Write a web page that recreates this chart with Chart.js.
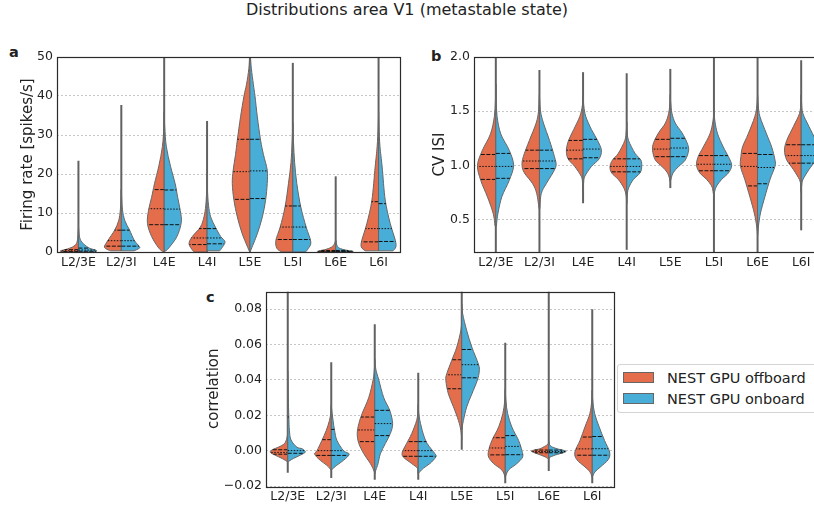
<!DOCTYPE html>
<html>
<head>
<meta charset="utf-8">
<script src="https://cdn.jsdelivr.net/npm/chart.js@4.4.0/dist/chart.umd.min.js"></script>
<style>
  html, body { margin: 0; padding: 0; background: #fff; overflow: hidden; width: 814px; height: 505px; }
  body { position: relative; font-family: 'DejaVu Sans', sans-serif; color: #222; }
  canvas { position: absolute; display: block; }
  #title { position: absolute; left: 0; top: 0; width: 814px; text-align: center; font-size: 16px; line-height: 20px; }
  .lbl { position: absolute; font-weight: bold; font-size: 14.5px; line-height: 14px; }
  #legend { position: absolute; left: 617px; top: 364px; width: 220px; height: 47px; border: 1px solid #d4d4d4; border-radius: 3px; background: #fff; }
  .item { position: absolute; left: 5px; font-size: 14.5px; line-height: 16px; }
  .patch { position: absolute; left: 0; top: 2px; width: 29px; height: 9px; border: 1px solid #666; }
  .item span { position: absolute; left: 44px; top: 0; white-space: nowrap; }
</style>
</head>
<body>
<div id="title">Distributions area V1 (metastable state)</div>
<div class="lbl" style="left:9px;top:45px">a</div>
<div class="lbl" style="left:431px;top:49px">b</div>
<div class="lbl" style="left:206px;top:290px">c</div>

<canvas id="rate" width="410" height="235" style="left:0;top:40px"></canvas>
<canvas id="cv" width="420" height="235" style="left:420px;top:40px"></canvas>
<canvas id="corr" width="430" height="225" style="left:190px;top:280px"></canvas>

<div id="legend">
  <div class="item" style="top:5px"><div class="patch" style="background:#E46E4C"></div><span>NEST GPU offboard</span></div>
  <div class="item" style="top:26px"><div class="patch" style="background:#48AED8"></div><span>NEST GPU onboard</span></div>
</div>

<script>
'use strict';

// ===== データ =====
const categories = ['L2/3E', 'L2/3I', 'L4E', 'L4I', 'L5E', 'L5I', 'L6E', 'L6I'];
const seriesNames = ['NEST GPU offboard', 'NEST GPU onboard'];
const OFF_COLOR = '#E46E4C';
const ON_COLOR  = '#48AED8';

// 軸目盛
const rateTicks = [0, 10, 20, 30, 40, 50];
const rateTickLabels = ['0', '10', '20', '30', '40', '50'];
const cvTicks = [0.5, 1.0, 1.5, 2.0];
const cvTickLabels = ['0.5', '1.0', '1.5', '2.0'];
const corrTicks = [-0.02, 0, 0.02, 0.04, 0.06, 0.08];
const corrTickLabels = ['\u22120.02', '0.00', '0.02', '0.04', '0.06', '0.08'];

// 形状: [値, 相対幅(1 = 最大幅)] を下から上へ
// --- a: firing rate ---
const rateOffShape = [
  [[0,0.92],[0.3,1.0],[0.8,0.6],[1.5,0.25],[2.5,0.08],[4,0.03],[6,0]],
  [[0.3,0.6],[0.9,0.88],[1.5,0.93],[3,0.74],[5.6,0.37],[8,0.15],[11,0.05],[16,0]],
  [[0,0.05],[1,0.3],[3.9,0.69],[7.3,0.93],[10.7,0.87],[14,0.7],[17.5,0.54],[22,0.3],[27,0.1],[32,0.02],[36,0]],
  [[0,0.7],[0.4,0.8],[2.1,1.0],[3.9,0.83],[6.4,0.37],[9,0.17],[12,0.07],[16,0.02],[20,0]],
  [[0,0],[0.4,0.05],[4.7,0.43],[9,0.7],[13.3,0.89],[17.6,0.98],[21,0.93],[25,0.8],[28.7,0.7],[34.7,0.52],[40,0.33],[43,0.19],[47,0.06],[50,0.02]],
  [[0,0.6],[0.9,0.88],[3,0.94],[6.4,0.7],[11.6,0.43],[17.6,0.24],[23,0.1],[28,0.04],[33,0]],
  [[0,0.96],[0.2,1.0],[0.6,0.6],[1.2,0.25],[2,0.08],[3,0]],
  [[0.3,0.75],[1.3,0.96],[3,0.93],[7.3,0.65],[13.3,0.37],[21.8,0.19],[27,0.08],[32,0.02],[36,0]],
];
const rateOnShape = [
  [[0,0.95],[0.4,1.0],[1.0,0.6],[2.0,0.3],[3,0.12],[4.5,0.04],[7,0]],
  [[0.3,0.7],[0.9,0.98],[1.4,1.0],[3,0.72],[5.6,0.46],[8,0.2],[11,0.06],[16,0]],
  [[0.3,0.1],[1,0.25],[3.9,0.7],[7.6,0.95],[10.7,0.89],[14,0.75],[17.5,0.61],[22,0.35],[27,0.12],[32,0.03],[36,0]],
  [[0.3,0.7],[0.9,0.8],[2.6,1.0],[4,0.75],[6.4,0.46],[9,0.2],[12,0.08],[16,0.02],[20,0]],
  [[0,0],[0.4,0.04],[4.7,0.41],[9,0.69],[13.3,0.87],[17.6,0.96],[21,0.96],[25,0.75],[28.7,0.59],[34.7,0.41],[40,0.28],[43,0.19],[47,0.08],[50,0.03]],
  [[0,0.7],[0.9,0.86],[2.6,1.0],[6.4,0.74],[11.6,0.44],[17.6,0.22],[23,0.1],[28,0.04],[33,0]],
  [[0,0.93],[0.2,0.95],[0.5,0.55],[1.0,0.2],[1.8,0.06],[3,0]],
  [[0.3,0.8],[1.3,0.96],[3,0.93],[7.3,0.65],[13.3,0.37],[21.8,0.2],[27,0.08],[32,0.02],[36,0]],
];
// 四分位 [q1, 中央値, q3]
const rateOffQ = [[0.1,0.3,0.6],[1.5,2.9,5.6],[7.0,11.1,16.0],[1.9,3.6,6.0],[13.5,20.6,28.9],[3.2,6.4,11.8],[0.1,0.2,0.4],[2.6,6.0,12.9]];
const rateOnQ  = [[0.2,0.5,1.0],[1.5,2.9,5.6],[7.0,11.0,15.9],[2.1,3.6,6.0],[13.7,20.8,28.9],[3.2,6.4,11.8],[0.1,0.2,0.4],[2.7,6.0,12.4]];
// 最小・最大（細い尾）
const rateRange = [[0,23.4],[0.3,37.7],[0,50],[0,33.6],[0,50],[0,48.5],[0,19.4],[0.3,50]];

// --- b: CV ISI ---
const cvOffShape = [
  [[0.44,0.04],[0.56,0.15],[0.71,0.46],[0.86,0.82],[1.0,1.0],[1.14,0.73],[1.29,0.29],[1.45,0.08],[1.6,0.02],[1.75,0]],
  [[0.6,0.02],[0.74,0.15],[0.83,0.37],[0.93,0.82],[1.0,0.95],[1.08,0.88],[1.23,0.55],[1.39,0.18],[1.5,0.05],[1.65,0]],
  [[0.75,0],[0.84,0.03],[0.9,0.1],[0.99,0.46],[1.06,0.82],[1.14,0.91],[1.23,0.79],[1.33,0.51],[1.45,0.18],[1.55,0.04],[1.65,0]],
  [[0.65,0],[0.72,0.03],[0.79,0.15],[0.87,0.46],[0.93,0.82],[0.99,0.91],[1.05,0.77],[1.11,0.46],[1.23,0.1],[1.32,0.02],[1.4,0]],
  [[0.85,0],[0.93,0.15],[0.99,0.46],[1.05,0.82],[1.14,0.97],[1.21,0.91],[1.3,0.64],[1.39,0.27],[1.48,0.09],[1.58,0.02],[1.65,0]],
  [[0.7,0],[0.76,0.05],[0.81,0.13],[0.87,0.4],[0.93,0.77],[1.0,0.95],[1.08,0.86],[1.17,0.58],[1.29,0.22],[1.4,0.06],[1.5,0]],
  [[0.35,0],[0.44,0.05],[0.56,0.18],[0.71,0.42],[0.87,0.7],[0.99,0.93],[1.08,0.91],[1.17,0.82],[1.29,0.51],[1.45,0.15],[1.55,0.04],[1.65,0]],
  [[0.75,0],[0.82,0.03],[0.87,0.1],[0.96,0.42],[1.05,0.79],[1.14,0.91],[1.23,0.79],[1.36,0.42],[1.48,0.09],[1.58,0.02],[1.65,0]],
];
const cvOnShape = [
  [[0.44,0.03],[0.56,0.12],[0.71,0.33],[0.86,0.73],[1.0,0.97],[1.14,0.73],[1.29,0.27],[1.45,0.07],[1.6,0.02],[1.75,0]],
  [[0.6,0.02],[0.74,0.1],[0.83,0.37],[0.93,0.73],[1.0,0.91],[1.08,0.82],[1.23,0.55],[1.39,0.22],[1.5,0.06],[1.65,0]],
  [[0.75,0],[0.84,0.03],[0.9,0.1],[0.99,0.46],[1.06,0.88],[1.14,1.0],[1.23,0.79],[1.33,0.46],[1.45,0.15],[1.55,0.04],[1.65,0]],
  [[0.65,0],[0.72,0.03],[0.79,0.1],[0.87,0.37],[0.93,0.73],[0.99,0.82],[1.05,0.77],[1.11,0.46],[1.23,0.1],[1.32,0.02],[1.4,0]],
  [[0.85,0],[0.93,0.15],[0.99,0.46],[1.05,0.82],[1.14,1.0],[1.21,0.91],[1.3,0.64],[1.39,0.27],[1.48,0.09],[1.58,0.02],[1.65,0]],
  [[0.7,0],[0.76,0.04],[0.81,0.15],[0.87,0.42],[0.93,0.79],[1.0,0.97],[1.08,0.79],[1.17,0.51],[1.29,0.2],[1.4,0.06],[1.5,0]],
  [[0.35,0],[0.44,0.05],[0.56,0.16],[0.71,0.4],[0.87,0.68],[0.99,0.95],[1.05,0.95],[1.17,0.77],[1.29,0.49],[1.45,0.13],[1.55,0.04],[1.65,0]],
  [[0.75,0],[0.82,0.03],[0.87,0.1],[0.96,0.42],[1.05,0.79],[1.14,0.91],[1.23,0.79],[1.36,0.42],[1.48,0.09],[1.58,0.02],[1.65,0]],
];
const cvOffQ = [[0.87,0.99,1.10],[0.97,1.04,1.14],[1.06,1.14,1.23],[0.94,0.99,1.06],[1.08,1.15,1.24],[0.95,1.01,1.09],[0.81,0.99,1.11],[1.02,1.09,1.19]];
const cvOnQ  = [[0.88,0.99,1.11],[0.97,1.04,1.14],[1.07,1.15,1.24],[0.94,0.99,1.06],[1.08,1.16,1.25],[0.95,1.01,1.09],[0.83,0.98,1.10],[1.02,1.09,1.19]];
const cvRange = [[0.2,2.0],[0.2,1.88],[0.65,1.86],[0.22,1.85],[0.79,1.89],[0.2,2.0],[0.2,2.0],[0.4,1.97]];

// --- c: correlation ---
const corrOffShape = [
  [[-0.0064,0],[-0.0045,0.3],[-0.0025,0.7],[-0.001,0.95],[0.0005,0.85],[0.002,0.5],[0.004,0.18],[0.007,0.05],[0.01,0]],
  [[-0.011,0],[-0.0083,0.24],[-0.0055,0.6],[-0.002,0.91],[0,0.78],[0.0058,0.51],[0.0115,0.27],[0.017,0.1],[0.021,0.03],[0.025,0]],
  [[-0.013,0],[-0.011,0.06],[-0.0073,0.24],[-0.0017,0.6],[0.004,0.87],[0.0096,0.96],[0.0153,0.87],[0.021,0.69],[0.03,0.33],[0.04,0.09],[0.046,0.02],[0.05,0]],
  [[-0.013,0],[-0.01,0.04],[-0.0073,0.36],[-0.0036,0.82],[-0.0008,0.87],[0.004,0.64],[0.0096,0.36],[0.017,0.09],[0.022,0.02],[0.026,0]],
  [[0.006,0],[0.0115,0.05],[0.017,0.18],[0.0247,0.45],[0.032,0.73],[0.0397,0.87],[0.0435,0.82],[0.051,0.55],[0.0586,0.27],[0.068,0.05],[0.074,0]],
  [[-0.015,0],[-0.011,0.18],[-0.0073,0.64],[-0.0036,0.91],[0,0.91],[0.0058,0.73],[0.0134,0.36],[0.021,0.13],[0.028,0.03],[0.034,0]],
  [[-0.005,0],[-0.0035,0.2],[-0.0015,0.7],[-0.0002,0.95],[0.001,0.5],[0.002,0.3],[0.0035,0.06],[0.005,0]],
  [[-0.015,0],[-0.012,0.13],[-0.0092,0.4],[-0.005,0.85],[-0.0008,0.95],[0.0058,0.67],[0.0134,0.4],[0.021,0.13],[0.028,0.03],[0.034,0]],
];
const corrOnShape = [
  [[-0.0064,0],[-0.0045,0.3],[-0.0025,0.7],[-0.0008,0.96],[0.001,0.8],[0.002,0.5],[0.006,0.18],[0.0115,0.09],[0.019,0.06],[0.03,0.03],[0.04,0.01],[0.045,0]],
  [[-0.011,0],[-0.0083,0.3],[-0.0055,0.67],[-0.002,0.98],[0,0.67],[0.0058,0.31],[0.0115,0.18],[0.017,0.1],[0.021,0.05],[0.026,0]],
  [[-0.013,0],[-0.011,0.06],[-0.0073,0.18],[-0.0017,0.31],[0.004,0.58],[0.0096,0.85],[0.0153,0.98],[0.0228,0.82],[0.03,0.49],[0.04,0.22],[0.046,0.06],[0.052,0]],
  [[-0.013,0],[-0.01,0.27],[-0.0073,0.64],[-0.0036,0.96],[-0.0017,0.91],[0.004,0.49],[0.0096,0.27],[0.017,0.09],[0.022,0.02],[0.026,0]],
  [[0.012,0],[0.017,0.09],[0.0247,0.27],[0.032,0.55],[0.0397,0.85],[0.045,0.96],[0.049,0.91],[0.0586,0.55],[0.068,0.27],[0.0774,0.05],[0.083,0]],
  [[-0.015,0],[-0.011,0.18],[-0.0073,0.64],[-0.0036,0.95],[0,0.91],[0.0058,0.73],[0.0134,0.36],[0.021,0.13],[0.028,0.04],[0.035,0]],
  [[-0.004,0],[-0.0025,0.35],[-0.001,0.85],[-0.0002,0.93],[0.0008,0.55],[0.002,0.2],[0.0035,0.04],[0.005,0]],
  [[-0.015,0],[-0.012,0.15],[-0.0092,0.45],[-0.005,0.88],[-0.0008,0.95],[0.0058,0.67],[0.0134,0.38],[0.021,0.13],[0.028,0.03],[0.034,0]],
];
const corrOffQ = [[-0.002,-0.001,0.0005],[-0.0027,0.0,0.0062],[0.0051,0.0117,0.019],[-0.0032,0.0,0.0051],[0.035,0.0429,0.0514],[-0.0024,0.0015,0.0073],[-0.0012,-0.0005,0.0003],[-0.0026,0.001,0.0077]];
const corrOnQ  = [[-0.0015,0.0,0.019],[-0.0027,0.0,0.012],[0.0085,0.0153,0.0228],[-0.0032,0.0,0.0051],[0.0412,0.0486,0.0572],[-0.0023,0.0024,0.0085],[-0.0012,-0.0005,0.0003],[-0.0026,0.0011,0.008]];
const corrRange = [[-0.0125,0.09],[-0.0155,0.05],[-0.0165,0.0715],[-0.0165,0.044],[0.0005,0.09],[-0.0185,0.061],[-0.0115,0.09],[-0.0185,0.08]];

// 半分の最大幅（カテゴリ単位）
const HALF = 0.42;

Chart.defaults.font.family = "'DejaVu Sans', sans-serif";
Chart.defaults.color = '#222';

// 線形補間で幅を取得
function widthAt(knots, v) {
  if (v <= knots[0][0]) return knots[0][1];
  for (let k = 0; k < knots.length - 1; k++) {
    const [v0, w0] = knots[k], [v1, w1] = knots[k + 1];
    if (v >= v0 && v <= v1) return w0 + (w1 - w0) * (v - v0) / (v1 - v0);
  }
  return 0;
}

function halfPath(ctx, x, y, i, side, knots) {
  const cx = x.getPixelForValue(i);
  const pts = knots.map(([v, w]) => [x.getPixelForValue(i + side * w * HALF), y.getPixelForValue(v)]);
  ctx.beginPath();
  ctx.moveTo(cx, pts[0][1]);
  ctx.lineTo(pts[0][0], pts[0][1]);
  for (let k = 0; k < pts.length - 1; k++) {
    const p0 = pts[Math.max(k - 1, 0)], p1 = pts[k], p2 = pts[k + 1], p3 = pts[Math.min(k + 2, pts.length - 1)];
    ctx.bezierCurveTo(
      p1[0] + (p2[0] - p0[0]) / 6, p1[1] + (p2[1] - p0[1]) / 6,
      p2[0] - (p3[0] - p1[0]) / 6, p2[1] - (p3[1] - p1[1]) / 6,
      p2[0], p2[1]);
  }
  ctx.lineTo(cx, pts[pts.length - 1][1]);
  ctx.closePath();
}

// ===== バイオリン描画プラグイン =====
function violinPlugin(p) {
  return {
    id: 'violins',
    beforeDatasetsDraw(chart) {
      const { ctx, chartArea: a, scales: { x, y } } = chart;
      ctx.save();
      ctx.beginPath();
      ctx.rect(a.left, a.top, a.right - a.left, a.bottom - a.top);
      ctx.clip();

      categories.forEach((c, i) => {
        const cx = x.getPixelForValue(i);
        // 尾
        ctx.strokeStyle = '#616161';
        ctx.lineWidth = 2;
        ctx.setLineDash([]);
        ctx.beginPath();
        ctx.moveTo(cx, y.getPixelForValue(p.range[i][0]));
        ctx.lineTo(cx, y.getPixelForValue(p.range[i][1]));
        ctx.stroke();

        [[-1, p.off[i], p.offQ[i], OFF_COLOR], [1, p.on[i], p.onQ[i], ON_COLOR]].forEach(([side, knots, q, color]) => {
          halfPath(ctx, x, y, i, side, knots);
          ctx.fillStyle = color;
          ctx.fill();
          ctx.strokeStyle = '#666';
          ctx.lineWidth = 1;
          ctx.stroke();

          // 四分位線
          q.forEach((v, k) => {
            const w = widthAt(knots, v);
            const py = y.getPixelForValue(v);
            ctx.setLineDash(k === 1 ? [1.5, 1.5] : [4, 1.5]);
            ctx.strokeStyle = '#111';
            ctx.lineWidth = 1;
            ctx.beginPath();
            ctx.moveTo(cx, py);
            ctx.lineTo(x.getPixelForValue(i + side * w * HALF), py);
            ctx.stroke();
          });
          ctx.setLineDash([]);
        });
      });
      ctx.restore();
    },
    afterDraw(chart) {
      const { ctx, chartArea: a } = chart;
      ctx.save();
      ctx.strokeStyle = '#2a2a2a';
      ctx.lineWidth = 1.2;
      ctx.strokeRect(Math.round(a.left) + 0.5, Math.round(a.top) + 0.5,
                     Math.round(a.right - a.left), Math.round(a.bottom - a.top));
      ctx.restore();
    },
  };
}

function makePanel(id, p) {
  return new Chart(document.getElementById(id), {
    type: 'scatter',
    data: {
      datasets: [
        { label: seriesNames[0], data: p.offQ.map((q, i) => ({ x: i, y: q[1] })), pointRadius: 0 },
        { label: seriesNames[1], data: p.onQ.map((q, i) => ({ x: i, y: q[1] })), pointRadius: 0 },
      ],
    },
    options: {
      responsive: false,
      animation: false,
      events: [],
      layout: { padding: p.pad },
      plugins: { legend: { display: false }, tooltip: { enabled: false } },
      scales: {
        x: {
          type: 'linear', min: -0.5, max: 7.5,
          afterBuildTicks: s => { s.ticks = categories.map((c, i) => ({ value: i })); },
          afterFit: s => { s.height = p.xh; },
          grid: { display: false, drawTicks: false },
          border: { display: false },
          ticks: { autoSkip: false, maxRotation: 0, padding: 3, font: { size: 12.5 }, callback: v => categories[v] },
        },
        y: {
          type: 'linear', min: p.min, max: p.max,
          z: 1, // グリッドはバイオリンの上に描く
          afterBuildTicks: s => { s.ticks = p.ticks.map(v => ({ value: v })); },
          afterFit: s => { s.width = p.yw; },
          grid: { color: 'rgba(170,170,170,0.85)', lineWidth: 0.8, drawTicks: false },
          border: { display: false, dash: [2, 2] },
          ticks: { padding: 4, font: { size: 12.5 }, callback: v => p.tickLabels[p.ticks.indexOf(v)] },
          title: { display: true, text: p.yTitle, font: { size: 15 }, padding: { top: p.tpad, bottom: 0 } },
        },
      },
    },
    plugins: [violinPlugin(p)],
  });
}

document.addEventListener('DOMContentLoaded', () => {
  makePanel('rate', {
    off: rateOffShape, on: rateOnShape, offQ: rateOffQ, onQ: rateOnQ, range: rateRange,
    min: 0, max: 50, ticks: rateTicks, tickLabels: rateTickLabels, yTitle: 'Firing rate [spikes/s]',
    pad: { top: 17, right: 10, left: 0, bottom: 0 }, yw: 57, xh: 23, tpad: 19,
  });
  makePanel('cv', {
    off: cvOffShape, on: cvOnShape, offQ: cvOffQ, onQ: cvOnQ, range: cvRange,
    min: 0.2, max: 2.0, ticks: cvTicks, tickLabels: cvTickLabels, yTitle: 'CV ISI',
    pad: { top: 17, right: 17, left: 0, bottom: 0 }, yw: 54, xh: 23, tpad: 11,
  });
  makePanel('corr', {
    off: corrOffShape, on: corrOnShape, offQ: corrOffQ, onQ: corrOnQ, range: corrRange,
    min: -0.02, max: 0.09, ticks: corrTicks, tickLabels: corrTickLabels, yTitle: 'correlation',
    pad: { top: 11, right: 6, left: 0, bottom: 0 }, yw: 76, xh: 19, tpad: 15,
  });
});
</script>
</body>
</html>
